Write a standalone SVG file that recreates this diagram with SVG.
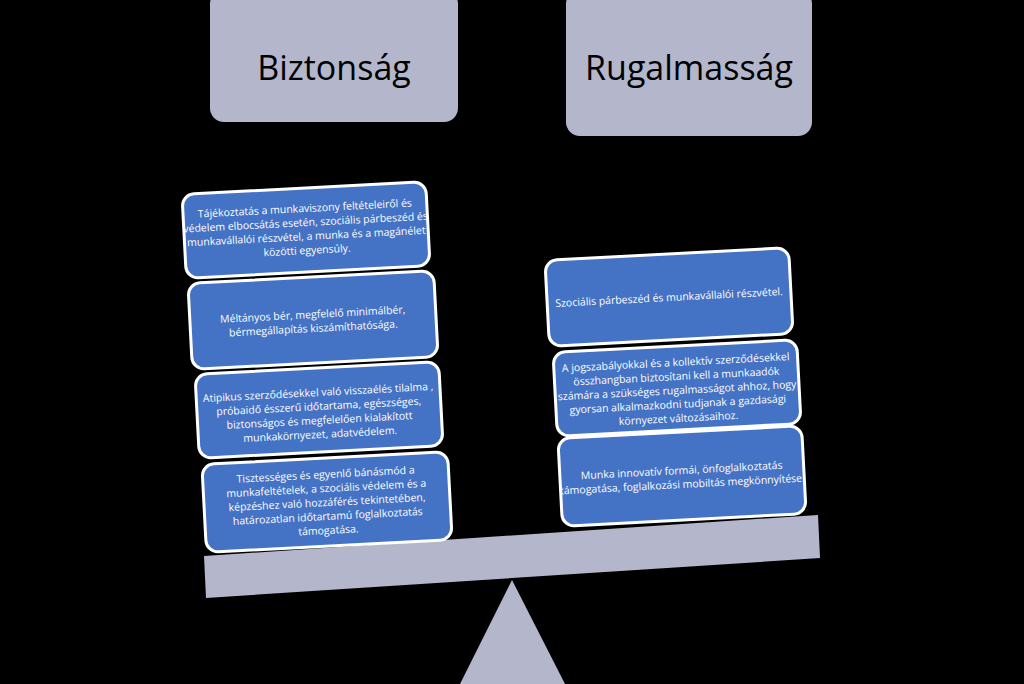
<svg xmlns="http://www.w3.org/2000/svg" width="1024" height="684" viewBox="0 0 1024 684">
<style>
.t{fill:#b4b7cb;}
.tt{font-family:"Open Sans","Liberation Sans",sans-serif;font-size:34px;fill:#000;text-anchor:middle;}
.b{fill:#4472c4;stroke:#fff;stroke-width:3;}
.bt{font-family:"Open Sans","Liberation Sans",sans-serif;font-size:10.5px;fill:#fff;text-anchor:middle;}
</style>
<rect width="1024" height="684" fill="#000"/>
<g id="biztonsag"><rect class="t" x="210" y="-10" width="248" height="132" rx="14"/><text class="tt" x="334" y="80">Biztonság</text></g>
<g id="rugalmassag"><rect class="t" x="566" y="-10" width="246" height="146" rx="14"/><text class="tt" x="689" y="80">Rugalmasság</text></g>
<g id="merleg"><polygon class="t" points="204,556 818,515 820,558 206,598"/><polygon class="t" points="512,580 460,684 565,684"/></g>
<g id="b1" transform="rotate(-3 306 230)"><rect class="b" x="184" y="188" width="244" height="84" rx="12"/>
<text class="bt" x="306" y="212">Tájékoztatás a munkaviszony feltételeiről és</text><text class="bt" x="306" y="226">védelem elbocsátás esetén, szociális párbeszéd és</text><text class="bt" x="306" y="240">munkavállalói részvétel, a munka és a magánélet</text><text class="bt" x="306" y="254">közötti egyensúly.</text></g>
<g id="b2" transform="rotate(-3 313 320)"><rect class="b" x="190" y="277" width="246" height="86" rx="12"/>
<text class="bt" x="313" y="318">Méltányos bér, megfelelő minimálbér,</text><text class="bt" x="313" y="332">bérmegállapítás kiszámíthatósága.</text></g>
<g id="b3" transform="rotate(-3 319 410)"><rect class="b" x="197" y="368" width="244" height="84" rx="12"/>
<text class="bt" x="319" y="396">Atipikus szerződésekkel való visszaélés tilalma ,</text><text class="bt" x="319" y="410">próbaidő ésszerű időtartama, egészséges,</text><text class="bt" x="319" y="424">biztonságos és megfelelően kialakított</text><text class="bt" x="319" y="438">munkakörnyezet, adatvédelem.</text></g>
<g id="b4" transform="rotate(-3 327 502)"><rect class="b" x="204" y="458" width="246" height="88" rx="12"/>
<text class="bt" x="327" y="478">Tisztességes és egyenlő bánásmód a</text><text class="bt" x="327" y="492">munkafeltételek, a szociális védelem és a</text><text class="bt" x="327" y="506">képzéshez való hozzáférés tekintetében,</text><text class="bt" x="327" y="520">határozatlan időtartamú foglalkoztatás</text><text class="bt" x="327" y="534">támogatása.</text></g>
<g id="b5" transform="rotate(-3 669 297)"><rect class="b" x="547" y="254" width="244" height="86" rx="12"/>
<text class="bt" x="669" y="301">Szociális párbeszéd és munkavállalói részvétel.</text></g>
<g id="b6" transform="rotate(-3 677 388)"><rect class="b" x="555" y="346" width="244" height="84" rx="12"/>
<text class="bt" x="677" y="366">A jogszabályokkal és a kollektív szerződésekkel</text><text class="bt" x="677" y="380">összhangban biztosítani kell a munkaadók</text><text class="bt" x="677" y="394">számára a szükséges rugalmasságot ahhoz, hogy</text><text class="bt" x="677" y="408">gyorsan alkalmazkodni tudjanak a gazdasági</text><text class="bt" x="677" y="422">környezet változásaihoz.</text></g>
<g id="b7" transform="rotate(-3 682 476)"><rect class="b" x="560" y="432" width="244" height="88" rx="12"/>
<text class="bt" x="682" y="474">Munka innovatív formái, önfoglalkoztatás</text><text class="bt" x="682" y="488">támogatása, foglalkozási mobiltás megkönnyítése.</text></g>
<g id="connectors"/>
</svg>
